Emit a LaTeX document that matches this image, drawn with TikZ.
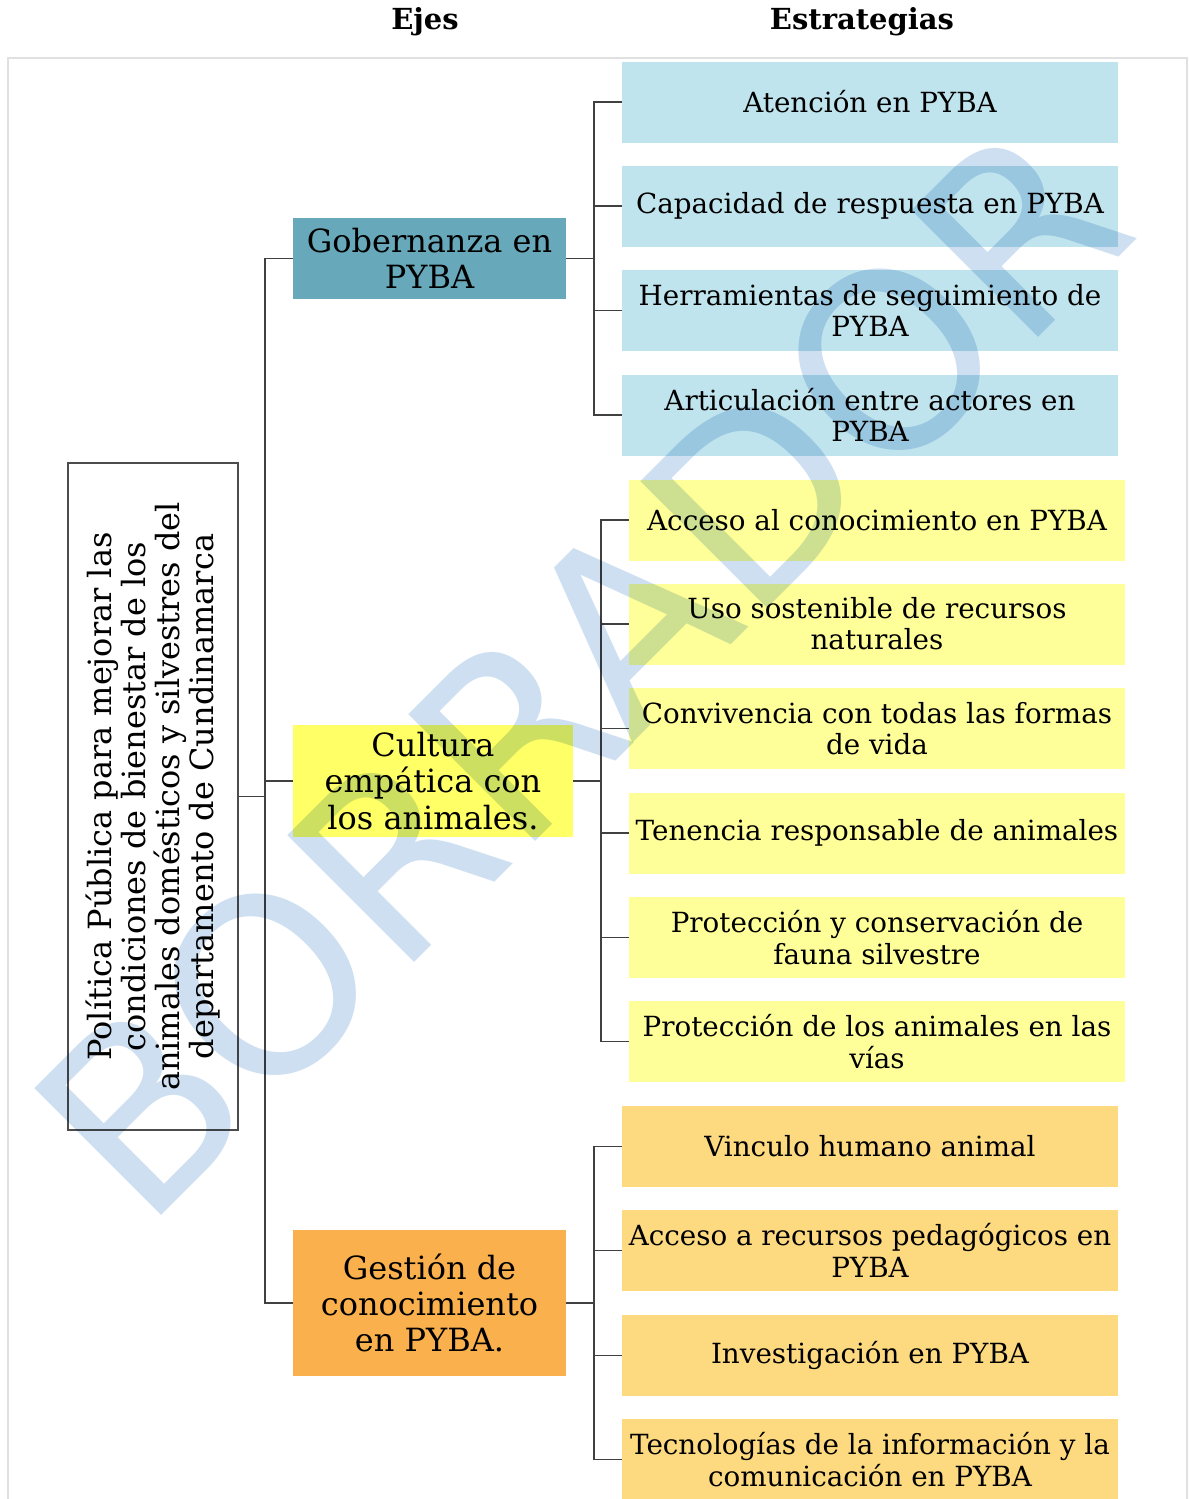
\documentclass[tikz,border=0pt]{standalone}
\usepackage{fontspec}
\setmainfont{DejaVu Serif}
\newfontfamily\wmfont{DejaVu Sans}

\definecolor{gobfill}{RGB}{103,168,186}
\definecolor{gobstrat}{RGB}{191,228,238}
\definecolor{culfill}{RGB}{255,255,102}
\definecolor{culstrat}{RGB}{255,255,153}
\definecolor{gesfill}{RGB}{249,176,77}
\definecolor{gesstrat}{RGB}{253,217,128}
\definecolor{linegray}{RGB}{64,64,64}
\definecolor{wmblue}{RGB}{205,223,241}

\begin{document}
\begin{tikzpicture}[x=0.02cm, y=-0.02cm,
  stratbox/.style={rectangle, minimum width=9.92cm, minimum height=1.62cm, inner sep=1pt,
    align=center, font=\fontsize{15.8}{17.8}\selectfont},
  axisbox/.style={rectangle, minimum width=5.46cm, inner sep=1pt,
    align=center, font=\fontsize{18.2}{20.6}\selectfont},
  link/.style={draw=linegray, line width=0.75pt}]

\useasboundingbox (0,0) rectangle (1189,1499);
\fill[white] (0,0) rectangle (1189,1499);

%\draw[help lines] (0,0) grid[step=100] (1189,1499);

% marco
\draw[black!12, line width=0.8pt] (8,1499) -- (8,58) -- (1187,58) -- (1187,1499);

% titulos
\node (tejes) at (425,22) [font=\bfseries\fontsize{16.5}{18}\selectfont]{Ejes};
\node (testr) at (862,22) [font=\bfseries\fontsize{16.5}{18}\selectfont]{Estrategias};

% politica
\node (main) at (153,796.5) [draw=black!70, line width=0.8pt, fill=white, rotate=90,
  minimum width=13.34cm, minimum height=3.4cm, inner sep=1pt, align=center,
  font=\fontsize{18.2}{19.2}\selectfont]{Política Pública para mejorar las\\condiciones de bienestar de los\\animales domésticos y silvestres del\\departamento de Cundinamarca};

% ejes
\node (gob) at (429.5,258.5) [axisbox, fill=gobfill, minimum height=1.62cm]{Gobernanza en\\PYBA};
\node (cul) at (433,781) [axisbox, fill=culfill, minimum width=5.6cm, minimum height=2.24cm]{Cultura\\empática con\\los animales.};
\node (ges) at (429.5,1303) [axisbox, fill=gesfill, minimum height=2.92cm]{Gestión de\\conocimiento\\en PYBA.};

% estrategias gobernanza
\node (g1) at (870,102) [stratbox, fill=gobstrat]{Atención en PYBA};
\node (g2) at (870,206) [stratbox, fill=gobstrat]{Capacidad de respuesta en PYBA};
\node (g3) at (870,310.5) [stratbox, fill=gobstrat]{Herramientas de seguimiento de\\PYBA};
\node (g4) at (870,415) [stratbox, fill=gobstrat]{Articulación entre actores en\\PYBA};

% estrategias cultura
\node (c1) at (877,520) [stratbox, fill=culstrat]{Acceso al conocimiento en PYBA};
\node (c2) at (877,624) [stratbox, fill=culstrat]{Uso sostenible de recursos\\naturales};
\node (c3) at (877,728.5) [stratbox, fill=culstrat]{Convivencia con todas las formas\\de vida};
\node (c4) at (877,833) [stratbox, fill=culstrat]{Tenencia responsable de animales};
\node (c5) at (877,937.5) [stratbox, fill=culstrat]{Protección y conservación de\\fauna silvestre};
\node (c6) at (877,1041.5) [stratbox, fill=culstrat]{Protección de los animales en las\\vías};

% estrategias gestion
\node (s1) at (870,1146.5) [stratbox, fill=gesstrat]{Vinculo humano animal};
\node (s2) at (870,1250.5) [stratbox, fill=gesstrat]{Acceso a recursos pedagógicos en\\PYBA};
\node (s3) at (870,1355.5) [stratbox, fill=gesstrat]{Investigación en PYBA};
\node (s4) at (870,1459.5) [stratbox, fill=gesstrat]{Tecnologías de la información y la\\comunicación en PYBA};

% lineas
\coordinate (tr) at (265,0);
\coordinate (bg) at (594,0);
\coordinate (bc) at (601,0);
\coordinate (bs) at (594,0);

\draw[link] (main.south) -- (main.south -| tr);
\draw[link] (gob.west) -| (tr |- ges.west) -- (ges.west);
\draw[link] (cul.west) -- (cul.west -| tr);

\draw[link] (gob.east) -- (gob.east -| bg);
\draw[link] (g1.west) -| (bg |- g4.west) -- (g4.west);
\draw[link] (g2.west) -- (g2.west -| bg);
\draw[link] (g3.west) -- (g3.west -| bg);

\draw[link] (cul.east) -- (cul.east -| bc);
\draw[link] (c1.west) -| (bc |- c6.west) -- (c6.west);
\draw[link] (c2.west) -- (c2.west -| bc);
\draw[link] (c3.west) -- (c3.west -| bc);
\draw[link] (c4.west) -- (c4.west -| bc);
\draw[link] (c5.west) -- (c5.west -| bc);

\draw[link] (ges.east) -- (ges.east -| bs);
\draw[link] (s1.west) -| (bs |- s4.west) -- (s4.west);
\draw[link] (s2.west) -- (s2.west -| bs);
\draw[link] (s3.west) -- (s3.west -| bs);

% marca de agua
\begin{scope}[blend mode=multiply]
\node (wm) at (580,670) [rotate=45, text=wmblue,
  font=\wmfont\fontsize{140}{140}\selectfont]{BORRADOR};
\end{scope}

\end{tikzpicture}
\end{document}
